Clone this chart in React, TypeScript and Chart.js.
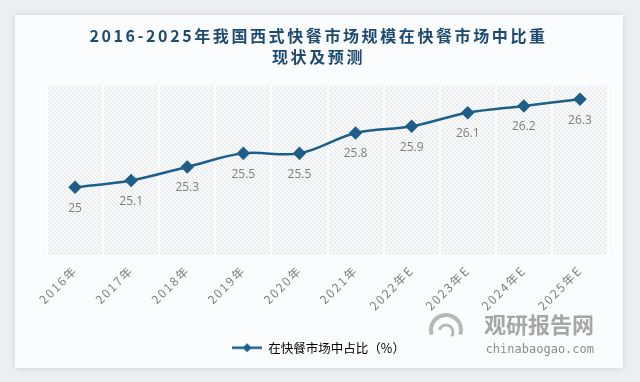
import React, { useEffect, useRef } from "react";
import { Chart, registerables } from "chart.js";

Chart.register(...registerables);

const categories = ["2016年", "2017年", "2018年", "2019年", "2020年", "2021年", "2022年E", "2023年E", "2024年E", "2025年E"];
const shareValues = [25, 25.1, 25.3, 25.5, 25.5, 25.8, 25.9, 26.1, 26.2, 26.3];
const seriesName = "在快餐市场中占比（%）";
const titleLines = ["2016-2025年我国西式快餐市场规模在快餐市场中比重", "现状及预测"];
const watermarkMain = "观研报告网";
const watermarkSub = "chinabaogao.com";

const LINE_COLOR = "#1d5f8a";
const CJK = "'Noto Sans CJK SC', 'Open Sans', sans-serif";

function makeHatch(): CanvasPattern | string {
  const c = document.createElement("canvas");
  c.width = 4;
  c.height = 4;
  const g = c.getContext("2d");
  if (!g) return "#f5f6f7";
  g.fillStyle = "#f8f9fa";
  g.fillRect(0, 0, 4, 4);
  g.strokeStyle = "#e2e4e6";
  g.lineWidth = 1;
  g.beginPath();
  g.moveTo(0, 0);
  g.lineTo(4, 4);
  g.moveTo(-1, 3);
  g.lineTo(1, 5);
  g.moveTo(3, -1);
  g.lineTo(5, 1);
  g.stroke();
  const p = g.createPattern(c, "repeat");
  return p || "#f5f6f7";
}

function makeLegendIcon(): HTMLCanvasElement {
  const c = document.createElement("canvas");
  c.width = 30;
  c.height = 12;
  const g = c.getContext("2d")!;
  g.strokeStyle = LINE_COLOR;
  g.lineWidth = 2.5;
  g.beginPath();
  g.moveTo(0, 6);
  g.lineTo(30, 6);
  g.stroke();
  g.fillStyle = LINE_COLOR;
  g.beginPath();
  g.moveTo(15, 1.5);
  g.lineTo(19.5, 6);
  g.lineTo(15, 10.5);
  g.lineTo(10.5, 6);
  g.closePath();
  g.fill();
  return c;
}

function withSpacing(box: any, spacing: string) {
  if (!box) return;
  const orig = box.draw.bind(box);
  box.draw = (...args: any[]) => {
    const ctx = box.ctx || box.chart?.ctx;
    const prev = ctx ? (ctx as any).letterSpacing : undefined;
    if (ctx) (ctx as any).letterSpacing = spacing;
    orig(...args);
    if (ctx) (ctx as any).letterSpacing = prev;
  };
}

export default function App() {
  const ref = useRef<HTMLCanvasElement>(null);

  useEffect(() => {
    if (!ref.current) return;
    const hatch = makeHatch();
    const icon = makeLegendIcon();

    const bgPlugin = {
      id: "bg",
      beforeDraw(chart: any) {
        const { ctx, chartArea } = chart;
        ctx.save();
        ctx.fillStyle = "#eceef1";
        ctx.fillRect(0, 0, chart.width, chart.height);
        ctx.shadowColor = "rgba(0,0,0,0.12)";
        ctx.shadowBlur = 6;
        ctx.fillStyle = "#fbfcfd";
        ctx.fillRect(15, 15, 608, 353);
        ctx.shadowColor = "transparent";
        ctx.fillStyle = hatch;
        ctx.fillRect(chartArea.left, chartArea.top, chartArea.right - chartArea.left, chartArea.bottom - chartArea.top);
        ctx.restore();
        // letter spacing for tick labels (reset before data)
        (ctx as any).letterSpacing = "1.8px";
      },
      beforeDatasetsDraw(chart: any) {
        (chart.ctx as any).letterSpacing = "0px";
      },
    };

    const labelPlugin = {
      id: "valueLabels",
      afterDatasetsDraw(chart: any) {
        const { ctx } = chart;
        const meta = chart.getDatasetMeta(0);
        const data = chart.data.datasets[0].data as number[];
        ctx.save();
        (ctx as any).letterSpacing = "0px";
        ctx.fillStyle = "#7f7f7f";
        ctx.font = "12px 'Open Sans', sans-serif";
        ctx.textAlign = "center";
        ctx.textBaseline = "middle";
        meta.data.forEach((pt: any, i: number) => {
          ctx.fillText(String(data[i]), pt.x, pt.y + 21);
        });
        ctx.restore();
      },
    };

    const watermarkPlugin = {
      id: "watermark",
      afterDraw(chart: any) {
        const { ctx } = chart;
        ctx.save();
        (ctx as any).letterSpacing = "0px";
        ctx.fillStyle = "#a6a6a6";
        ctx.textAlign = "right";
        ctx.textBaseline = "middle";
        ctx.font = `bold 22px ${CJK}`;
        ctx.fillText(watermarkMain, 594, 325);
        ctx.fillStyle = "#8c8c8c";
        ctx.font = "12px 'DejaVu Sans Mono', monospace";
        ctx.fillText(watermarkSub, 594, 350);
        ctx.strokeStyle = "#b8b8b8";
        ctx.lineWidth = 4;
        ctx.beginPath();
        ctx.arc(446, 330, 15, Math.PI * 0.9, Math.PI * 2.1);
        ctx.stroke();
        ctx.lineWidth = 3;
        ctx.beginPath();
        ctx.arc(446, 332, 7, Math.PI * 1.1, Math.PI * 2.2);
        ctx.stroke();
        ctx.restore();
      },
    };

    const chart = new Chart(ref.current, {
      type: "line",
      data: {
        labels: categories,
        datasets: [
          {
            label: seriesName,
            data: shareValues,
            borderColor: LINE_COLOR,
            backgroundColor: LINE_COLOR,
            borderWidth: 2.5,
            pointStyle: "rectRot",
            pointRadius: 5,
            pointBackgroundColor: LINE_COLOR,
            pointBorderColor: LINE_COLOR,
            tension: 0.35,
            fill: false,
          },
        ],
      },
      options: {
        responsive: false,
        animation: false,
        layout: { padding: { left: 29, right: 32, top: 0, bottom: 18 } },
        plugins: {
          title: {
            display: true,
            text: titleLines,
            color: "#1e4a70",
            font: { family: CJK, size: 16, weight: "bold", lineHeight: 1.3 },
            padding: { top: 26, bottom: 18 },
          },
          legend: {
            display: true,
            position: "bottom",
            labels: {
              usePointStyle: true,
              pointStyleWidth: 30,
              color: "#404040",
              font: { family: CJK, size: 12.5 },
              padding: 10,
              generateLabels: () => [
                {
                  text: seriesName,
                  pointStyle: icon as any,
                  fillStyle: LINE_COLOR,
                  strokeStyle: LINE_COLOR,
                  lineWidth: 0,
                  hidden: false,
                  datasetIndex: 0,
                } as any,
              ],
            },
          },
          tooltip: { enabled: false },
        },
        scales: {
          x: {
            offset: true,
            grid: { display: true, offset: true, color: "rgba(255,255,255,0.95)", lineWidth: 2, drawTicks: false },
            border: { display: false },
            ticks: {
              color: "#7f7f7f",
              font: { family: CJK, size: 12 },
              minRotation: 45,
              maxRotation: 45,
              padding: 8,
            },
            afterFit: (scale: any) => {
              scale.height += 18;
            },
          },
          y: {
            display: true,
            min: 24,
            max: 26.5,
            grid: { display: false, drawTicks: false },
            border: { display: false },
            ticks: { display: false },
            afterFit: (scale: any) => {
              scale.width = 18;
            },
          },
        },
      },
      plugins: [bgPlugin, labelPlugin, watermarkPlugin],
    });
    withSpacing((chart as any).titleBlock, "2.6px");
    withSpacing((chart as any).legend, "0px");
    chart.draw();
    return () => chart.destroy();
  }, []);

  return (
    <div style={{ position: "absolute", left: 0, top: 0, width: 640, height: 382 }}>
      <canvas ref={ref} width={640} height={382} style={{ display: "block", width: 640, height: 382 }} />
    </div>
  );
}
